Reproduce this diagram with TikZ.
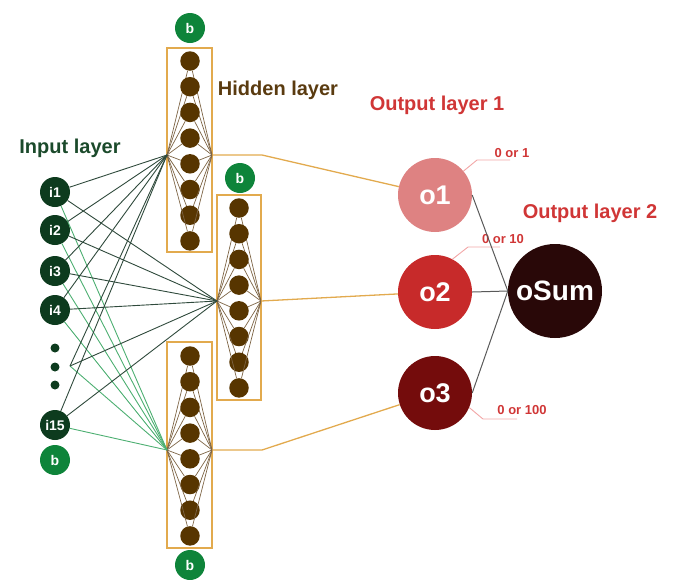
\documentclass[tikz,border=0pt]{standalone}
\usepackage{fontspec}
\setmainfont{Liberation Sans}
\usepackage{xcolor}
\usetikzlibrary{arrows, positioning}

\definecolor{indark}{HTML}{0D3B1E}
\definecolor{biasgreen}{HTML}{0E843A}
\definecolor{hbrown}{HTML}{573500}
\definecolor{boxorange}{HTML}{E2AA4E}
\definecolor{innerbrown}{HTML}{7D6444}
\definecolor{darkedge}{HTML}{2F4A3C}
\definecolor{greenedge}{HTML}{4DAF72}
\definecolor{oone}{HTML}{DE8282}
\definecolor{otwo}{HTML}{C72A2A}
\definecolor{othree}{HTML}{740C0C}
\definecolor{osum}{HTML}{290808}
\definecolor{redtext}{HTML}{D03636}
\definecolor{leaderpink}{HTML}{F2A6A6}
\definecolor{intext}{HTML}{1B4A2B}
\definecolor{hidtext}{HTML}{5A3B10}

\begin{document}
\begin{tikzpicture}[x=1pt,y=-1pt]
    \tikzstyle{inputnode}=[shape=circle,fill=indark,text=white,minimum size=30pt,inner sep=0pt,font=\bfseries\fontsize{14}{16}\selectfont]
    \tikzstyle{biasnode}=[inputnode,fill=biasgreen]
    \tikzstyle{neuron}=[shape=circle,fill=hbrown,minimum size=19.5pt,inner sep=0pt]
    \tikzstyle{hbox}=[draw=boxorange,line width=1.6pt]
    \tikzstyle{innerline}=[draw=innerbrown,line width=0.7pt]
    \tikzstyle{dkline}=[draw=darkedge,line width=0.9pt]
    \tikzstyle{gnline}=[draw=greenedge,line width=0.9pt]
    \tikzstyle{oline}=[draw=boxorange,line width=1.3pt]
    \tikzstyle{outnode}=[shape=circle,text=white,minimum size=74pt,inner sep=0pt,font=\bfseries\fontsize{27}{30}\selectfont]
    \tikzstyle{sumline}=[draw=black!65,line width=1pt]
    \tikzstyle{leader}=[draw=leaderpink,line width=0.9pt]
    \tikzstyle{layertitle}=[font=\bfseries\fontsize{20}{24}\selectfont]
    \tikzstyle{rangelabel}=[text=redtext,font=\bfseries\fontsize{13}{15}\selectfont]

    \useasboundingbox (0,0) rectangle (674,579);

    % input layer
    \node[layertitle, text=intext] (Tin) at (70,148) {Input layer};
    \node[inputnode] (I1) at (55,192) {i1};
    \node[inputnode] (I2) at (55,230) {i2};
    \node[inputnode] (I3) at (55,271) {i3};
    \node[inputnode] (I4) at (55,310) {i4};
    \foreach \y in {348,367,385}
        \fill[indark] (55,\y) circle (4.5pt);
    \coordinate (Id) at (70,366);
    \node[inputnode] (I15) at (55,425) {i15};
    \node[biasnode] (Bin) at (55,460) {b};

    % hidden layer
    \node[layertitle, text=hidtext] (Thid) at (278,90) {Hidden layer};
    \draw[hbox] (167,48) rectangle (212,252);
    \draw[hbox] (217,195) rectangle (261,400);
    \draw[hbox] (167,342) rectangle (212,548);
    \node[biasnode] (B1) at (190,28) {b};
    \node[biasnode] (B2) at (240,178) {b};
    \node[biasnode] (B3) at (190,565) {b};
    \coordinate (H1l) at (167,155);
    \coordinate (H1r) at (212,155);
    \coordinate (H2l) at (217,301);
    \coordinate (H2r) at (261,301);
    \coordinate (H3l) at (167,450);
    \coordinate (H3r) at (212,450);
    \foreach \k in {0,...,7} {
        \node[neuron] (H1n\k) at (190,61+25.7*\k) {};
        \node[neuron] (H2n\k) at (239,208+25.7*\k) {};
        \node[neuron] (H3n\k) at (190,356+25.7*\k) {};
        \path[innerline] (H1l) -- (H1n\k) -- (H1r);
        \path[innerline] (H2l) -- (H2n\k) -- (H2r);
        \path[innerline] (H3l) -- (H3n\k) -- (H3r);
    }

    % input to hidden
    \foreach \n in {I1,I2,I3,I4,Id,I15} {
        \path[gnline] (\n) -- (H3l);
        \path[dkline] (\n) -- (H1l);
        \path[dkline] (\n) -- (H2l);
    }

    % output layer 1
    \node[layertitle, text=redtext] (Tout1) at (437,105) {Output layer 1};
    \node[outnode, fill=oone] (O1) at (435,195) {o1};
    \node[outnode, fill=otwo] (O2) at (435,292) {o2};
    \node[outnode, fill=othree] (O3) at (435,393) {o3};
    \coordinate (H1k) at (262,155);
    \coordinate (H3k) at (262,450);
    \path[oline] (H1r) -- (H1k) -- (O1);
    \path[oline] (H2r) -- (O2);
    \path[oline] (H3r) -- (H3k) -- (O3);

    % ranges
    \coordinate (R1a) at (477,160);
    \coordinate (R1b) at (510,160);
    \coordinate (R2a) at (468,247);
    \coordinate (R2b) at (500,247);
    \coordinate (R3a) at (483,419);
    \coordinate (R3b) at (517,419);
    \path[leader] (O1.40) -- (R1a) -- (R1b);
    \path[leader] (O2.62) -- (R2a) -- (R2b);
    \path[leader] (O3.-23) -- (R3a) -- (R3b);
    \node[rangelabel] (V1) at (512,153) {0 or 1};
    \node[rangelabel] (V2) at (503,239) {0 or 10};
    \node[rangelabel] (V3) at (522,410) {0 or 100};

    % output layer 2
    \node[layertitle, text=redtext] (Tout2) at (590,213) {Output layer 2};
    \node[outnode, fill=osum, minimum size=94pt, font=\bfseries\fontsize{28}{32}\selectfont] (OS) at (555,291) {oSum};
    \path[sumline] (O1.east) -- (OS.west);
    \path[sumline] (O2.east) -- (OS.west);
    \path[sumline] (O3.east) -- (OS.west);
\end{tikzpicture}
\end{document}
